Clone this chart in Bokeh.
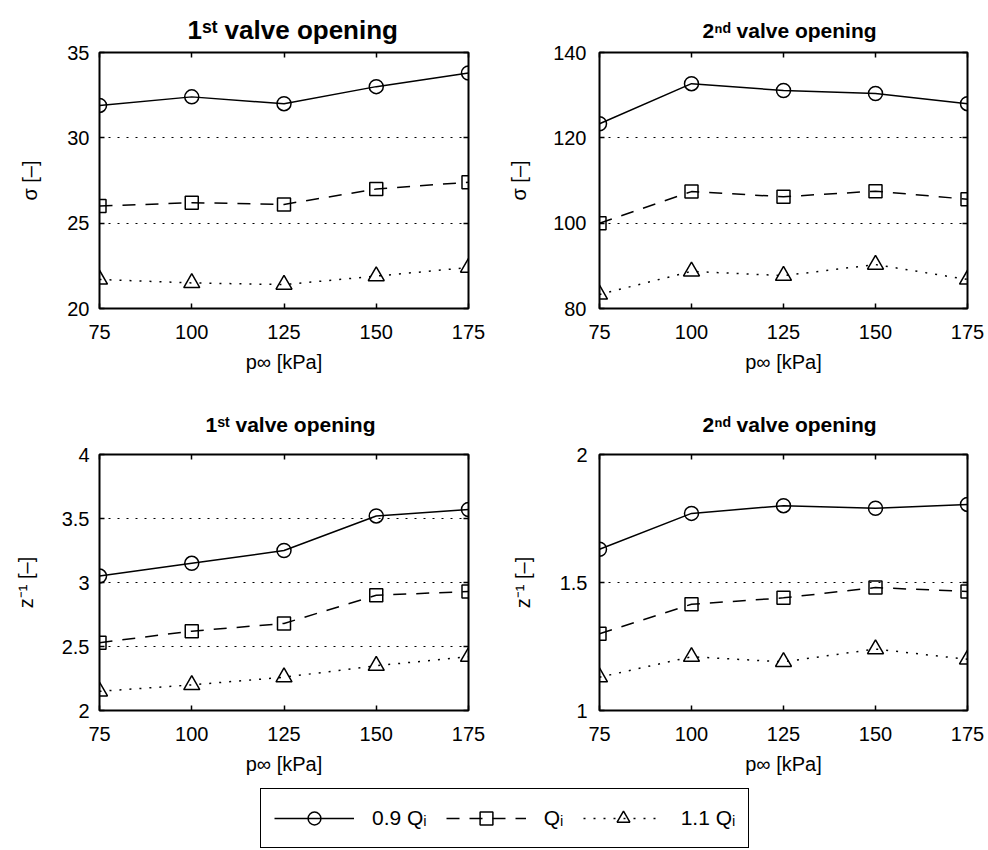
from bokeh.plotting import figure
from bokeh.layouts import column, row
from bokeh.models import (Range1d, FixedTicker, LinearAxis, Legend,
                          LegendItem, Grid, Title)
from bokeh.embed import file_html
from bokeh.resources import INLINE

# ---------------- data ----------------
pressure = [75, 100, 125, 150, 175]
x_ticks = [75, 100, 125, 150, 175]
x_tick_labels = ["75", "100", "125", "150", "175"]

sigma1_q09 = [31.9, 32.4, 32.0, 33.0, 33.8]
sigma1_q10 = [26.0, 26.2, 26.1, 27.0, 27.4]
sigma1_q11 = [21.7, 21.5, 21.4, 21.9, 22.4]
sigma1_ticks = [20, 25, 30, 35]
sigma1_tick_labels = ["20", "25", "30", "35"]

sigma2_q09 = [123.3, 132.7, 131.1, 130.4, 128.0]
sigma2_q10 = [100.0, 107.4, 106.2, 107.5, 105.6]
sigma2_q11 = [83.3, 88.7, 87.7, 90.3, 86.8]
sigma2_ticks = [80, 100, 120, 140]
sigma2_tick_labels = ["80", "100", "120", "140"]

zinv1_q09 = [3.05, 3.15, 3.25, 3.52, 3.57]
zinv1_q10 = [2.53, 2.62, 2.68, 2.90, 2.93]
zinv1_q11 = [2.15, 2.20, 2.26, 2.35, 2.42]
zinv1_ticks = [2, 2.5, 3, 3.5, 4]
zinv1_tick_labels = ["2", "2.5", "3", "3.5", "4"]

zinv2_q09 = [1.63, 1.77, 1.80, 1.79, 1.805]
zinv2_q10 = [1.30, 1.415, 1.44, 1.48, 1.465]
zinv2_q11 = [1.13, 1.21, 1.19, 1.24, 1.20]
zinv2_ticks = [1, 1.5, 2]
zinv2_tick_labels = ["1", "1.5", "2"]

title_first = "1\u02e2\u1d57 valve opening"
title_second = "2\u207f\u1d48 valve opening"
x_label = "p\u221e [kPa]"
y_label_sigma = "\u03c3 [\u2013]"
y_label_zinv = "z\u207b\u00b9 [\u2013]"
series_labels = ["0.9 Q\u1d62", "Q\u1d62", "1.1 Q\u1d62"]

# ---------------- style ----------------
FONT = "Liberation Sans"
TICK_PX = "20px"
LABEL_PX = "20px"
LW = 1.5


def panel(yr, yticks, ylabels, q09, q10, q11, left, right, top, bottom,
          fw, fh, title, title_px, title_standoff, title_offset, ylab,
          ylab_standoff, ytick_standoff):
    p = figure(width=left + fw + right, height=top + fh + bottom,
               x_range=Range1d(75, 175), y_range=Range1d(*yr),
               output_backend="svg", toolbar_location=None,
               x_axis_type=None, y_axis_type=None,
               min_border_left=left, min_border_right=right,
               min_border_top=top, min_border_bottom=bottom,
               background_fill_color="white", border_fill_color="white")
    p.outline_line_color = "black"
    p.outline_line_width = 2
    p.outline_line_alpha = 1.0

    xt = FixedTicker(ticks=x_ticks)
    yt = FixedTicker(ticks=yticks)
    for loc in ["below", "above", "left", "right"]:
        is_x = loc in ("below", "above")
        ticks = x_ticks if is_x else yticks
        labels = x_tick_labels if is_x else ylabels
        ax = LinearAxis(ticker=xt if is_x else yt)
        ax.axis_line_color = None
        ax.major_tick_in = 5
        ax.major_tick_out = 0
        ax.minor_tick_in = 0
        ax.minor_tick_out = 0
        ax.major_tick_line_color = "black"
        ax.major_tick_line_width = LW
        ax.major_label_overrides = {t: l for t, l in zip(ticks, labels)}
        ax.major_label_text_font = FONT
        if loc in ("below", "left"):
            ax.major_label_text_color = "black"
            ax.major_label_text_font_size = TICK_PX
            ax.major_label_standoff = 16 if loc == "below" else ytick_standoff
            ax.axis_label_text_font = FONT
            ax.axis_label_text_font_size = LABEL_PX
            ax.axis_label_text_font_style = "normal"
            ax.axis_label_text_color = "black"
            if loc == "below":
                ax.axis_label = x_label
                ax.axis_label_standoff = 9
            else:
                ax.axis_label = ylab
                ax.axis_label_standoff = ylab_standoff
        else:
            ax.major_label_text_color = None
            ax.major_label_text_font_size = "1px"
            ax.major_label_standoff = 0
        p.add_layout(ax, loc)

    p.add_layout(Grid(dimension=1, ticker=yt, grid_line_color="black",
                      grid_line_dash="2 7", grid_line_width=1))

    p.add_layout(Title(text=title, align="left", offset=title_offset,
                       standoff=title_standoff, text_font=FONT,
                       text_font_size=title_px, text_font_style="bold",
                       text_color="black"), "above")

    p.line(pressure, q09, line_color="black", line_width=LW)
    p.scatter(pressure, q09, marker="circle", size=14, fill_color=None,
              line_color="black", line_width=LW)
    p.line(pressure, q10, line_color="black", line_width=LW, line_dash="13 10")
    p.scatter(pressure, q10, marker="square", size=13, fill_color=None,
              line_color="black", line_width=LW)
    p.line(pressure, q11, line_color="black", line_width=LW, line_dash="2 8")
    p.scatter(pressure, q11, marker="triangle", size=16, fill_color=None,
              line_color="black", line_width=LW)
    return p


FW_L, FW_R, FH = 369, 368, 256

p1 = panel((20, 35), sigma1_ticks, sigma1_tick_labels,
           sigma1_q09, sigma1_q10, sigma1_q11,
           99, 26, 52, 84, FW_L, FH, title_first, "26px", 16, 88,
           y_label_sigma, 23, 10)
p2 = panel((80, 140), sigma2_ticks, sigma2_tick_labels,
           sigma2_q09, sigma2_q10, sigma2_q11,
           105, 21, 52, 84, FW_R, FH, title_second, "21px", 21, 103,
           y_label_sigma, 20, 13)
p3 = panel((2, 4), zinv1_ticks, zinv1_tick_labels,
           zinv1_q09, zinv1_q10, zinv1_q11,
           99, 26, 62, 75, FW_L, FH, title_first, "21px", 37, 106,
           y_label_zinv, 22, 10)
p4 = panel((1, 2), zinv2_ticks, zinv2_tick_labels,
           zinv2_q09, zinv2_q10, zinv2_q11,
           105, 21, 62, 75, FW_R, FH, title_second, "21px", 37, 103,
           y_label_zinv, 23, 12)

# ---------------- legend strip ----------------
pl = figure(width=988, height=65, x_range=Range1d(0, 1), y_range=Range1d(0, 1),
            output_backend="svg", toolbar_location=None,
            x_axis_type=None, y_axis_type=None,
            min_border_left=0, min_border_right=0, min_border_top=0,
            min_border_bottom=0, background_fill_color="white",
            border_fill_color="white")
pl.outline_line_color = None
off = [-10.0]
r1l = pl.line(off * 2, off * 2, line_color="black", line_width=LW)
r1s = pl.scatter(off, off, marker="circle", size=14, fill_color=None,
                 line_color="black", line_width=LW)
r2l = pl.line(off * 2, off * 2, line_color="black", line_width=LW,
              line_dash="13 10")
r2s = pl.scatter(off, off, marker="square", size=13, fill_color=None,
                 line_color="black", line_width=LW)
r3l = pl.line(off * 2, off * 2, line_color="black", line_width=LW,
              line_dash="2 8")
r3s = pl.scatter(off, off, marker="triangle", size=16, fill_color=None,
                 line_color="black", line_width=LW)
legend = Legend(items=[LegendItem(label=series_labels[0], renderers=[r1l, r1s]),
                       LegendItem(label=series_labels[1], renderers=[r2l, r2s]),
                       LegendItem(label=series_labels[2], renderers=[r3l, r3s])],
                orientation="horizontal", location=(260, 2),
                glyph_width=80, glyph_height=32, label_height=32,
                label_standoff=18, spacing=19, padding=13, margin=0,
                border_line_color="black", border_line_width=LW,
                border_line_alpha=1.0,
                background_fill_color="white", background_fill_alpha=1.0,
                label_text_font=FONT, label_text_font_size="21px",
                label_text_color="black")
pl.add_layout(legend)

layout = column(row(p1, p2), row(p3, p4), pl)
open("out.html", "w").write(file_html(layout, INLINE))
